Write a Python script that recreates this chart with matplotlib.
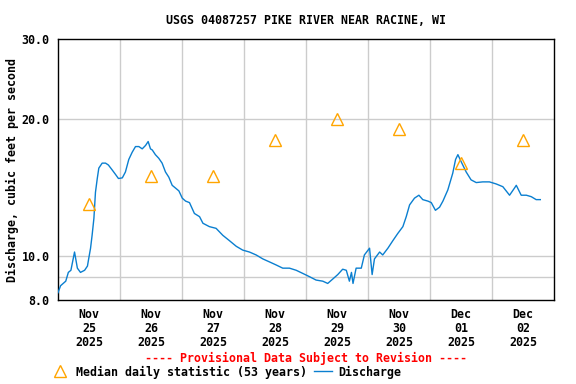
import numpy as np
import matplotlib.pyplot as plt
from matplotlib.lines import Line2D
from matplotlib.ticker import FixedLocator, NullFormatter

plt.rcParams['font.family'] = ['DejaVu Sans Mono']
plt.rcParams['font.weight'] = 'bold'
plt.rcParams['axes.labelweight'] = 'bold'
plt.rcParams['font.size'] = 8.4

# discharge, hours since Nov 25 00:00 and cfs
hours = [0, 1, 3, 4, 5, 6.4, 7.5, 8.7, 10.3, 11.4, 11.8, 12.6, 13.2, 13.9, 14.5,
         15.2, 15.8, 17.1, 18.4, 19.5, 21.0, 22.3, 23.4, 24.9, 26.1, 27.4, 28.7,
         30.0, 31.3, 32.6, 33.9, 34.9, 35.8, 36.5, 37.7, 39.0, 40.3, 41.6, 42.9,
         44.2, 45.5, 46.8, 48.1, 49.4, 50.9, 52.8, 54.8, 56.1, 58.6, 61.2, 63.8,
         66.4, 69.0, 71.5, 74.1, 76.7, 79.3, 81.9, 84.5, 87.0, 89.6, 92.2, 94.8,
         97.4, 99.9, 102.5, 104.4, 106.4, 108.3, 110.2, 111.6, 112.8, 113.6, 114.2,
         115.4, 117.4, 118.6, 120.6, 121.6, 122.5, 124.5, 125.7, 127.7, 129.6,
         131.5, 133.5, 134.8, 136.1, 138.0, 139.7, 141.2, 143.2, 144.5, 146.1,
         147.7, 149.0, 150.9, 152.8, 153.9, 154.8, 156.1, 158.0, 159.9, 161.9,
         164.4, 167.0, 169.6, 172.2, 174.8, 176.7, 177.4, 179.3, 181.3, 183.2,
         185.1, 186.7]
flow = [8.3, 8.6, 8.8, 9.2, 9.3, 10.2, 9.4, 9.2, 9.3, 9.5, 9.8, 10.4, 11.1, 12.1, 13.8,
        14.8, 15.6, 16.0, 16.0, 15.85, 15.45, 15.1, 14.8, 14.85, 15.3, 16.3, 16.9,
        17.4, 17.4, 17.2, 17.5, 17.85, 17.2, 17.1, 16.7, 16.4, 16.0, 15.3, 14.9,
        14.3, 14.1, 13.9, 13.4, 13.2, 13.1, 12.4, 12.2, 11.8, 11.6, 11.5, 11.1,
        10.8, 10.5, 10.3, 10.2, 10.05, 9.85, 9.7, 9.55, 9.4, 9.4, 9.3, 9.15,
        9.0, 8.85, 8.8, 8.7, 8.9, 9.1, 9.35, 9.3, 8.8, 9.2, 8.7,
        9.4, 9.4, 10.05, 10.4, 9.1, 9.85, 10.2, 10.05, 10.4, 10.8,
        11.2, 11.6, 12.2, 12.95, 13.4, 13.6, 13.3, 13.2, 13.1, 12.6,
        12.8, 13.2, 13.97, 15.2, 16.3, 16.7, 16.1, 15.3, 14.7, 14.5,
        14.55, 14.55, 14.4, 14.2, 13.6, 14.1, 14.3, 13.6, 13.6, 13.5,
        13.3, 13.3]

# median daily statistic at noon of each day
median_hours = [12, 36, 60, 84, 108, 132, 156, 180]
median_vals = [13, 15, 15, 18, 20, 19, 16, 18]

day_labels = ['Nov\n25\n2025', 'Nov\n26\n2025', 'Nov\n27\n2025', 'Nov\n28\n2025',
              'Nov\n29\n2025', 'Nov\n30\n2025', 'Dec\n01\n2025', 'Dec\n02\n2025']
y_ticks = [8, 10, 20, 30]
y_grid = [9, 10, 20]

fig = plt.figure(figsize=(5.76, 3.84), dpi=100)
ax = fig.add_axes([58/576, 1-300/384, 496/576, 261/384])

ax.set_yscale('log')
ax.set_ylim(8, 30)
ax.set_xlim(0, 192)

for g in y_grid:
    ax.axhline(g, color='#cccccc', lw=1, zorder=0)
for d in range(24, 192, 24):
    ax.axvline(d, color='#cccccc', lw=1, zorder=0)

ax.plot(hours, flow, color='#0a7fd0', lw=1, zorder=3)
ax.plot(median_hours, median_vals, ls='none', marker='^', ms=8, mfc='none',
        mec='#ffa500', mew=1, zorder=4)

ax.yaxis.set_major_locator(FixedLocator(y_ticks))
ax.yaxis.set_minor_locator(FixedLocator([]))
ax.yaxis.set_minor_formatter(NullFormatter())
ax.set_yticklabels(['%.1f' % v for v in y_ticks], fontweight='bold')
ax.set_xticks(median_hours)
ax.set_xticklabels(day_labels, linespacing=1.1, fontweight='bold')
ax.tick_params(length=0, pad=6)
ax.set_ylabel('Discharge, cubic feet per second', labelpad=2, fontweight='bold')
for s in ax.spines.values():
    s.set_linewidth(1)

fig.text(306/576, 1-20/384, 'USGS 04087257 PIKE RIVER NEAR RACINE, WI',
         ha='center', va='center', fontweight='bold')
fig.text(306/576, 1-358/384, '---- Provisional Data Subject to Revision ----',
         ha='center', va='center', color='red', fontweight='bold')

handles = [Line2D([], [], ls='none', marker='^', ms=8, mfc='none', mec='#ffa500', mew=1),
           Line2D([], [], color='#0a7fd0', lw=1)]
fig.legend(handles, ['Median daily statistic (53 years)', 'Discharge'],
           loc='center left', bbox_to_anchor=(51/576, 1-372/384), ncol=2,
           frameon=False, handlelength=1.6, handletextpad=0.5, columnspacing=0.6,
           borderaxespad=0, borderpad=0, prop={'weight': 'bold'})

fig.savefig('out.png', dpi=100)
